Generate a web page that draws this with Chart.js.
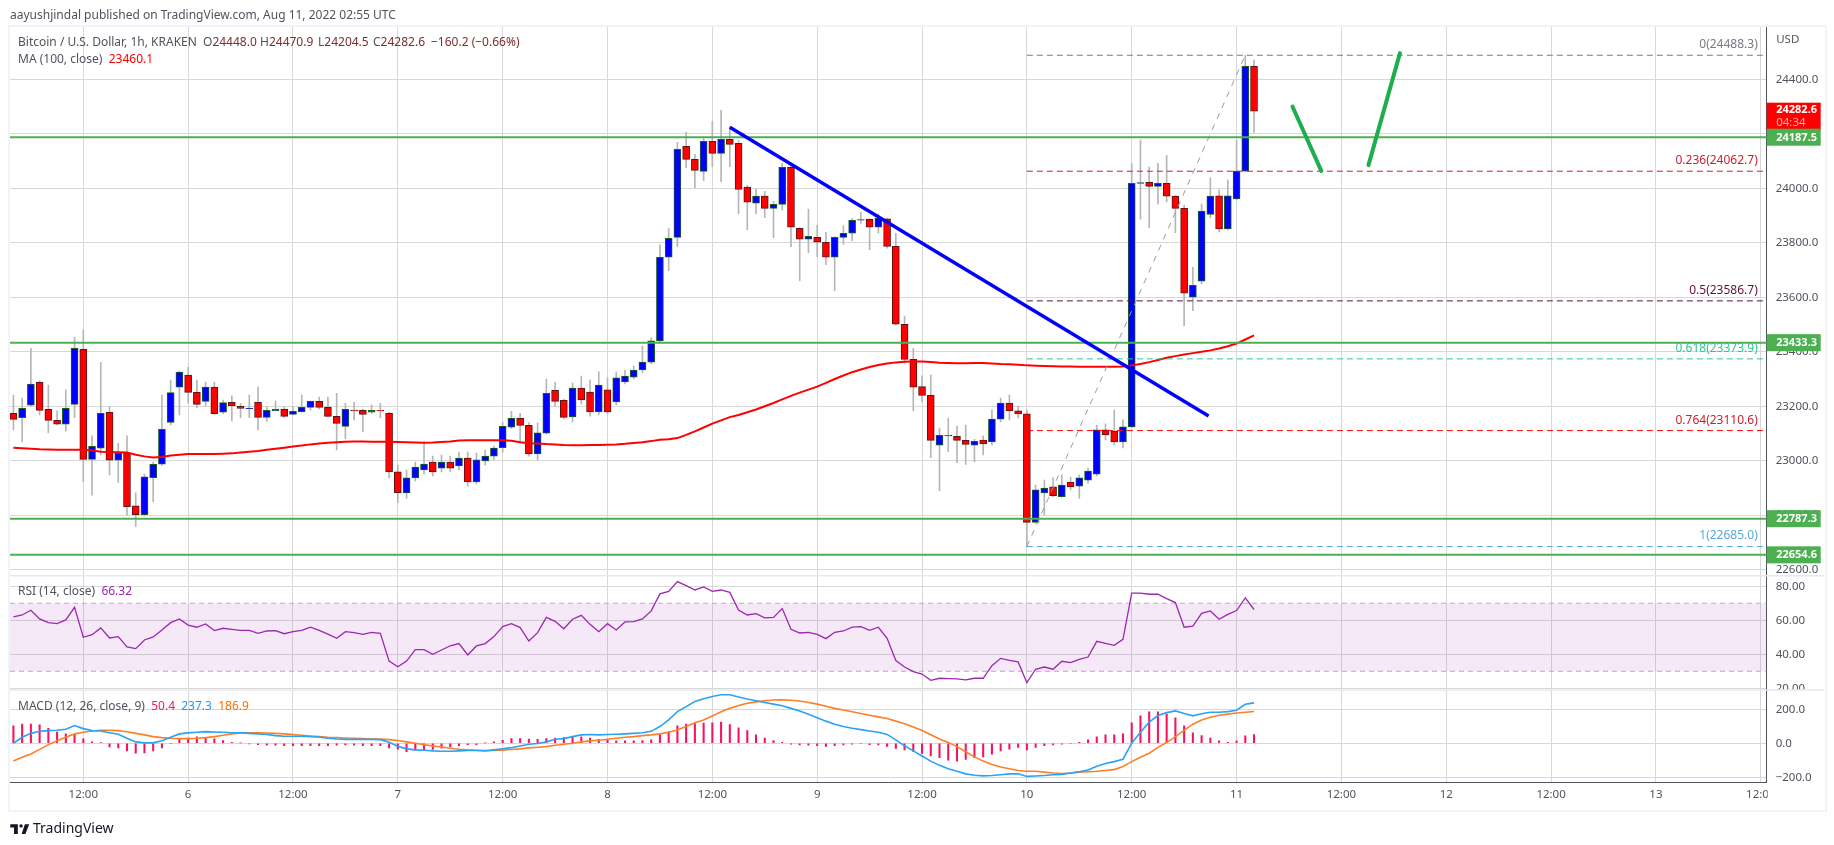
<!DOCTYPE html>
<html><head><meta charset="utf-8"><title>BTCUSD</title>
<script src="https://cdn.jsdelivr.net/npm/chart.js@4/dist/chart.umd.min.js"></script>
<style>
html,body{margin:0;padding:0;background:#fff;width:1834px;height:845px;overflow:hidden}
body{font-family:"Noto Sans",sans-serif;color:#50535e;position:relative}
#frame{position:absolute;left:8px;top:25px;width:1815px;height:783px;border:2px solid #f0f3fa}
canvas{position:absolute;left:0;top:0}
.t{position:absolute;font-size:12px;line-height:16px;white-space:pre}
.o{color:#7a2e2e}
</style></head><body>
<div id="frame"></div>
<canvas id="c" width="1834" height="845"></canvas>
<div class="t" style="left:10px;top:7px">aayushjindal published on TradingView.com, Aug 11, 2022 02:55 UTC</div>
<div class="t" style="left:18px;top:34px">Bitcoin / U.S. Dollar, 1h, KRAKEN</div>
<div class="t" style="left:203px;top:34px">O<span class="o">24448.0</span></div>
<div class="t" style="left:260px;top:34px">H<span class="o">24470.9</span></div>
<div class="t" style="left:318px;top:34px">L<span class="o">24204.5</span></div>
<div class="t" style="left:373px;top:34px">C<span class="o">24282.6</span></div>
<div class="t o" style="left:431px;top:34px">−160.2 (−0.66%)</div>
<div class="t" style="left:18px;top:51px">MA (100, close)  <span style="color:#ff0000">23460.1</span></div>
<div class="t" style="left:18px;top:583px">RSI (14, close)  <span style="color:#9c27b0">66.32</span></div>
<div class="t" style="left:18px;top:698px">MACD (12, 26, close, 9)  <span style="color:#f0146e">50.4</span>  <span style="color:#2196f3">237.3</span>  <span style="color:#ff6d00">186.9</span></div>
<svg style="position:absolute;left:10px;top:821px" width="20" height="13" viewBox="0 0 36 24"><path fill="#131722" d="M14 6H0v6h7v12h7V6zM28 24h-7l6-18h8l-7 18z"/><circle cx="20" cy="9" r="3.2" fill="#131722"/></svg>
<div class="t" style="left:33px;top:818px;font-size:14px;line-height:20px;color:#131722">TradingView</div>
<script>
const opens=[23174,23158,23204,23288,23189,23148,23134,23207,23409,23005,23046,23178,23002,23027,22834,22802,22938,22987,23141,23270,23314,23251,23218,23270,23178,23214,23200,23191,23214,23159,23184,23189,23170,23180,23196,23218,23196,23163,23126,23186,23185,23178,23185,23174,22959,22882,22937,22966,22995,22973,22995,22981,23010,22922,22999,23017,23048,23123,23156,23130,23025,23101,23258,23222,23161,23267,23252,23179,23260,23216,23289,23307,23333,23362,23440,23747,23820,24154,24106,24062,24172,24128,24180,24165,24004,23945,23971,23926,23941,24077,23853,23813,23820,23802,23747,23820,23835,23883,23886,23857,23888,23787,23501,23372,23272,23240,23057,23093,23090,23075,23057,23076,23069,23153,23212,23183,23172,22774,22882,22904,22868,22922,22907,22929,22951,23113,23109,23069,23124,24018,24022,24007,24018,23971,23926,23600,23659,23904,23972,23851,23961,24063,24448];
const highs=[23241,23229,23413,23293,23278,23183,23260,23453,23480,23091,23361,23199,23064,23091,22882,22951,22995,23241,23296,23329,23343,23296,23289,23289,23223,23238,23211,23241,23271,23199,23219,23199,23199,23241,23219,23234,23234,23247,23211,23214,23190,23205,23211,23178,22984,22966,22995,23069,23017,23021,23017,23032,23032,23028,23039,23054,23141,23181,23174,23140,23139,23300,23289,23226,23285,23311,23296,23326,23304,23326,23333,23348,23421,23451,23792,23853,24169,24205,24125,24183,24246,24286,24226,24174,24011,23996,23989,23952,24092,24082,23856,23924,23865,23838,23822,23862,23890,23912,23888,23905,23891,23835,23531,23413,23312,23315,23120,23157,23127,23131,23079,23091,23186,23230,23241,23201,23186,22911,22929,22937,22948,22940,22948,22973,23131,23135,23186,23150,24092,24177,24078,24092,24121,23973,23938,23710,23942,24038,23994,24030,24177,24488,24471];
const lows=[23113,23070,23199,23168,23103,23131,23109,23158,22923,22874,23021,22948,22920,22801,22758,22797,22850,22983,23131,23168,23211,23195,23201,23170,23173,23146,23158,23158,23113,23144,23184,23158,23168,23178,23186,23190,23161,23040,23080,23150,23107,23174,23158,22937,22846,22863,22926,22951,22944,22959,22959,22966,22907,22915,22984,23003,23032,23118,23064,23017,23003,23098,23201,23155,23142,23208,23164,23168,23172,23205,23282,23300,23322,23355,23436,23698,23786,24076,24002,24028,24079,24024,24079,23906,23848,23906,23892,23819,23920,23786,23661,23764,23749,23720,23624,23794,23808,23871,23775,23835,23780,23498,23358,23184,23217,23011,22890,23033,22993,22986,22997,23021,23058,23142,23150,23157,22685,22771,22801,22867,22866,22893,22863,22918,22944,23076,23058,23047,23120,23887,23855,23942,23950,23837,23496,23551,23649,23891,23840,23847,23957,24060,24205];
const closes=[23152,23192,23281,23185,23148,23134,23192,23413,23005,23053,23174,23002,23027,22831,22802,22941,22987,23115,23250,23325,23251,23207,23270,23173,23213,23202,23192,23193,23159,23185,23189,23163,23181,23196,23218,23196,23163,23137,23189,23183,23170,23185,23183,22959,22883,22937,22977,22988,22959,22995,22973,23010,22922,23003,23017,23046,23126,23156,23130,23025,23102,23247,23218,23159,23267,23223,23179,23278,23179,23304,23311,23333,23362,23440,23747,23816,24143,24106,24066,24172,24128,24180,24161,23996,23949,23971,23926,23941,24077,23857,23813,23824,23802,23747,23820,23835,23882,23885,23857,23890,23787,23501,23372,23270,23240,23075,23093,23091,23075,23060,23071,23062,23153,23212,23183,23172,22774,22893,22900,22872,22911,22904,22937,22962,23113,23095,23069,23124,24018,24021,24007,24018,23971,23926,23615,23644,23916,23971,23851,23972,24063,24448,24283];
const ma100=[23048,23046,23044,23042,23041,23040,23040,23040,23040,23038,23033,23032,23031,23030,23022,23016,23012,23014,23019,23022,23025,23025,23025,23025,23026,23027,23030,23033,23036,23040,23044,23048,23052,23056,23060,23063,23066,23068,23070,23071,23071,23070,23070,23070,23069,23068,23067,23066,23067,23069,23071,23074,23075,23075,23075,23075,23075,23073,23068,23064,23063,23061,23060,23058,23057,23057,23058,23058,23059,23060,23062,23065,23068,23072,23077,23079,23083,23095,23108,23122,23136,23148,23160,23168,23178,23188,23200,23212,23225,23238,23250,23261,23272,23286,23300,23313,23325,23335,23344,23351,23357,23361,23363,23364,23364,23362,23360,23359,23358,23358,23359,23359,23357,23355,23354,23352,23350,23349,23348,23347,23346,23346,23345,23345,23345,23345,23345,23346,23350,23355,23362,23370,23378,23384,23390,23395,23400,23405,23412,23420,23430,23445,23460];
const rsi=[62,63.1,65.9,60.8,58.6,58,60.2,67.6,50,51.5,55.5,49.6,50.4,44.3,43.3,48.4,50.2,54.3,58.6,60.8,57.2,55.9,57.8,53.9,55.3,54.7,54.1,54.1,52.3,53.7,53.9,52.1,53.3,54.1,55.9,54.1,51.9,49.4,53.3,52.7,51.7,52.9,52.3,36,32.7,36,42.7,42.7,40,42.5,45,46.3,39.6,44.9,46.3,50.4,56.3,58,55.7,47.8,52.7,61.7,59.4,55,60.6,62.9,57.6,53.3,58,54.3,59,59.2,60.8,65.5,75.5,77,82.7,80.4,77.8,79.6,77,77.8,76.4,66,63.1,63.9,61.4,61.7,66.9,54.7,52.5,52.9,51.7,49.2,52.9,53.7,56,56.3,54.1,55.9,49.4,36.3,32.5,29.8,28.4,24.7,25.9,25.7,25.5,24.9,25.9,25.9,33.3,37.6,36.4,35.5,23.3,31.2,32.5,31.2,35.9,35.1,37,38.4,47.6,46.4,45.3,48.8,75.9,75.9,75.3,75.3,72.7,70.4,55.9,56.6,64.1,65.5,60.6,63.5,65.7,73.1,66.32];
const macdHist=[102,113,113,108,88,66,55,53,26,8,4,-22,-27,-45,-59,-57,-45,-27,0,26,31,37,35,26,16,6,2,-4,-8,-12,-12,-14,-14,-14,-14,-14,-14,-12,-10,-12,-14,-14,-14,-27,-35,-49,-41,-41,-37,-29,-20,-14,-8,-8,2,8,17,27,27,25,23,27,31,33,35,37,31,23,23,14,14,14,16,20,49,68,102,113,115,118,120,125,110,90,75,50,30,15,5,-5,-10,-12,-15,-18,-14,-10,-5,-3,-8,-10,-18,-30,-40,-50,-60,-75,-85,-100,-105,-95,-85,-80,-65,-45,-35,-25,-40,-25,-15,-10,-6,0,6,20,37,49,49,55,120,161,184,184,171,149,102,61,45,31,14,6,14,43,50.4];
const macdLine=[0,35,58,70,74,76,82,104,86,74,72,62,53,29,8,2,2,14,35,55,61,65,68,66,65,62,61,58,55,51,45,41,41,41,39,37,29,25,23,23,23,23,21,6,-18,-33,-39,-41,-45,-47,-47,-45,-43,-43,-45,-39,-33,-26,-16,-6,-2,8,23,27,39,49,51,49,51,53,55,58,62,70,98,137,186,215,245,262,275,285,285,272,260,250,240,230,220,205,190,170,150,130,112,98,88,80,72,65,52,20,-15,-45,-75,-105,-130,-150,-165,-180,-188,-192,-190,-185,-180,-180,-195,-193,-190,-185,-183,-175,-168,-157,-135,-119,-108,-94,0,65,124,163,180,190,175,161,173,182,182,186,194,229,237.3];
const macdSignal=[-104,-83,-63,-36,-8,15,35,55,65,72,76,76,74,68,58,49,39,33,29,27,27,29,33,39,47,55,61,62,62,60,58,55,51,47,43,39,35,33,31,29,27,25,25,21,16,8,0,-8,-16,-22,-29,-35,-39,-41,-43,-43,-41,-37,-33,-27,-24,-20,-12,-6,0,8,14,18,23,29,35,39,45,49,55,65,78,98,121,137,160,185,205,222,235,243,250,254,255,253,248,240,230,218,205,195,185,175,165,155,145,130,115,95,75,50,25,5,-20,-50,-80,-105,-125,-140,-150,-160,-165,-165,-170,-175,-178,-175,-170,-168,-165,-160,-155,-137,-108,-82,-59,-24,4,39,76,112,137,153,165,171,178,182,186.9];
const srLevels=[24187.5,23433.3,22787.3,22654.6];
const fibRatios=['0','0.236','0.5','0.618','0.764','1'];
const fibPrices=[24488.3,24062.7,23586.7,23373.9,23110.6,22685.0];
const fibColors=['#787b86','#c4232f','#5d1038','#2ec4a0','#ff0000','#5aa9d8'];
const fibTextColors=['#787b86','#c4232f','#5d1038','#2ec4a0','#c4232f','#5aa9d8'];
const fibStart=116, lastHigh=141;
const trendIdx=[82,136.8], trendPrices=[24224,23164];
const arrow1Idx=[146.4,149.7], arrow1Prices=[24300,24064];
const arrow2Idx=[155.1,158.7], arrow2Prices=[24085,24496];
const timeTickIdx=[8,20,32,44,56,68,80,92,104,116,128,140,152,164,176,188,200];
const timeTickLabels=['12:00','6','12:00','7','12:00','8','12:00','9','12:00','10','12:00','11','12:00','12','12:00','13','12:00'];
const priceTicks=[22600,22800,23000,23200,23400,23600,23800,24000,24200,24400];
const rsiTicks=[20,40,60,80], rsiBands=[70,30];
const macdTicks=[-200,0,200];
const priceTags=[{p:24187.5,bg:'#4caf50'},{p:23433.3,bg:'#4caf50'},{p:22787.3,bg:'#4caf50'},{p:22654.6,bg:'#4caf50'}];

const xMin=-0.39,xMax=200.68;
const FONT='"Noto Sans",sans-serif', TXT='#50535e', GRID='#d8d8d8', AX='#50535e';
const idx=opens.map((_,i)=>i);
const up=idx.map(i=>closes[i]>=opens[i]);
const seg=(xs,ys)=>xs.map((x,i)=>({x,y:ys[i]}));
const lineDS=(data,yAxisID,color,width,order,extra)=>Object.assign({type:'line',data,yAxisID,xAxisID:'x',borderColor:color,borderWidth:width,pointRadius:0,tension:0,fill:false,order},extra||{});
const datasets=[
 {type:'bar',data:idx.map(i=>({x:i,y:[lows[i],highs[i]]})),yAxisID:'y',xAxisID:'x',barThickness:1,grouped:false,backgroundColor:'#b6b6b6',borderWidth:0,order:20},
 {type:'bar',data:idx.map(i=>({x:i,y:[opens[i],closes[i]]})),yAxisID:'y',xAxisID:'x',barThickness:7,grouped:false,backgroundColor:up.map(u=>u?'#0000ff':'#ff0000'),borderColor:up.map(u=>u?'#1b5e20':'#5d1414'),borderWidth:1,borderSkipped:false,order:15},
 lineDS(seg(idx,ma100),'y','#ff0000',2,10),
 lineDS(seg([fibStart,lastHigh],[fibPrices[5],fibPrices[0]]),'y','#9a9a9a',1,9,{borderDash:[6,6]}),
 ...fibPrices.map((p,k)=>lineDS(seg([fibStart,xMax],[p,p]),'y',fibColors[k],1,8,{borderDash:[6,4]})),
 ...srLevels.map(p=>lineDS(seg([xMin,xMax],[p,p]),'y','#4caf50',2,7)),
 lineDS(seg(trendIdx,trendPrices),'y','#0000ff',3.4,6),
 lineDS(seg(arrow1Idx,arrow1Prices),'y','#1eae50',4,6,{borderCapStyle:'round'}),
 lineDS(seg(arrow2Idx,arrow2Prices),'y','#1eae50',4,6,{borderCapStyle:'round'}),
 lineDS(seg([xMin,xMax],[rsiBands[0],rsiBands[0]]),'rsi','#bfaac8',1,14,{borderDash:[5,4],fill:'+1',backgroundColor:'rgba(156,39,176,0.1)'}),
 lineDS(seg([xMin,xMax],[rsiBands[1],rsiBands[1]]),'rsi','#bfaac8',1,14,{borderDash:[5,4]}),
 lineDS(seg(idx,rsi),'rsi','#9c27b0',1.3,5),
 {type:'bar',data:idx.map(i=>({x:i,y:macdHist[i]})),yAxisID:'macd',xAxisID:'x',barThickness:1.4,grouped:false,backgroundColor:'#f5125f',borderWidth:0,order:12},
 lineDS(seg(idx,macdSignal),'macd','#ff7f27',1.6,5),
 lineDS(seg(idx,macdLine),'macd','#2aa2f5',1.6,4)
];
const yBase=(weight,stackWeight,min,max,ticks,dec)=>({
 type:'linear',position:'right',stack:'panes',stackWeight,weight,min,max,beginAtZero:false,offset:false,
 afterFit(s){s.width=57.3},
 afterBuildTicks(s){s.ticks=ticks.map(value=>({value}))},
 border:{color:AX,width:1},
 grid:{color:GRID,drawTicks:false,lineWidth:1},
 ticks:{autoSkip:false,padding:9,color:TXT,font:{family:FONT,size:11.5},crossAlign:'near',
   callback:v=>(v<0?'−':'')+Math.abs(v).toFixed(dec)}
});
const overlay={id:'overlay',afterDraw(c){
 const g=c.ctx,Y=c.scales.y,R=c.scales.rsi,M=c.scales.macd,X=c.scales.x,a=c.chartArea;
 const axR=1824;
 g.save();
 g.fillStyle='#fff';
 g.fillRect(a.right+1,M.top,axR-a.right-1,9);
 g.fillRect(a.right+1,a.bottom+1,axR-a.right-1,25);
 g.strokeStyle='#e6e8f0';g.lineWidth=1.5;
 [R.top,M.top].forEach(y=>{g.beginPath();g.moveTo(a.left,y);g.lineTo(axR,y);g.stroke()});
 g.font='12px '+FONT;g.textAlign='right';g.textBaseline='middle';
 const lx=X.getPixelForValue(200)-3;
 fibPrices.forEach((p,k)=>{g.fillStyle=fibTextColors[k];g.fillText(fibRatios[k]+'('+p.toFixed(1)+')',lx,Y.getPixelForValue(p)-10.5)});
 const tagX=a.right,tagW=54,tx=a.right+9.5;
 g.textAlign='left';
 const yc=Y.getPixelForValue(closes[closes.length-1]);
 g.fillStyle='#ff0000';g.fillRect(tagX,yc-8.5,tagW,28);
 g.font='bold 11px '+FONT;g.fillStyle='#fff';g.fillText('24282.6',tx,yc-1);
 g.font='11.5px '+FONT;g.fillStyle='#ffb3b3';g.fillText('04:34',tx,yc+12);
 priceTags.forEach(t=>{const y=Y.getPixelForValue(t.p);g.fillStyle=t.bg;g.fillRect(tagX,y-8.5,tagW,17);
   g.font='bold 11px '+FONT;g.fillStyle='#fff';g.fillText(t.p.toFixed(1),tx,y+0.5)});
 g.fillStyle=TXT;g.font='11.5px '+FONT;g.fillText('USD',tx,40);
 g.restore();
}};
new Chart(document.getElementById('c'),{
 type:'line',
 data:{datasets},
 options:{
  responsive:false,animation:false,devicePixelRatio:1,
  layout:{padding:{top:27,left:10,right:10,bottom:36}},
  plugins:{legend:{display:false},tooltip:{enabled:false},title:{display:false}},
  scales:{
   x:{type:'linear',min:xMin,max:xMax,offset:false,
     afterFit(s){s.height=26.3},
     afterBuildTicks(s){s.ticks=timeTickIdx.map(value=>({value}))},
     border:{color:AX,width:1},
     grid:{color:GRID,drawTicks:false,offset:false,lineWidth:1},
     ticks:{autoSkip:false,maxRotation:0,padding:5,color:TXT,font:{family:FONT,size:11.5},
       callback:v=>timeTickLabels[timeTickIdx.indexOf(v)]}},
   y:yBase(0,548.7,22578,24592,priceTicks,1),
   rsi:yBase(1,114.3,19,86.2,rsiTicks,2),
   macd:yBase(2,92.7,-232,313,macdTicks,1)
  }
 },
 plugins:[overlay]
});
</script>
</body></html>
